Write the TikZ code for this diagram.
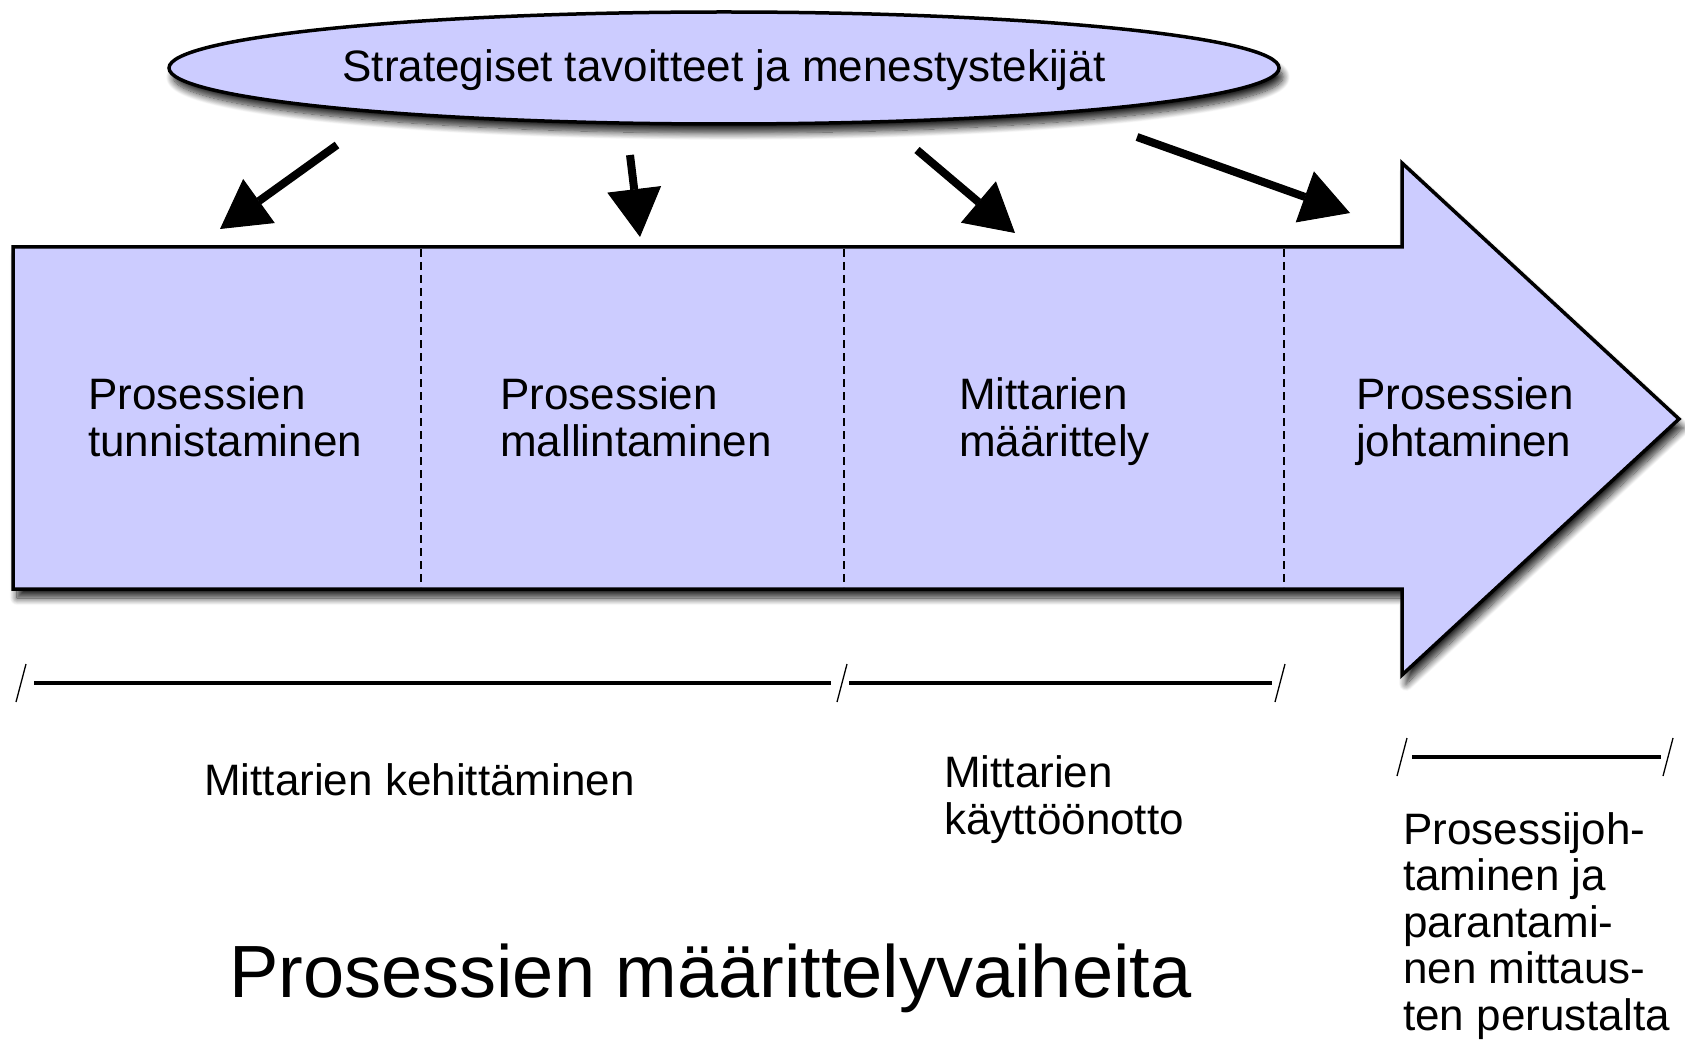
\documentclass[tikz,border=0pt]{standalone}
\usepackage{fontspec}
\setmainfont{Liberation Sans}
\usetikzlibrary{shapes.geometric,arrows.meta,shadows.blur}
\definecolor{lilac}{RGB}{204,204,255}
\tikzset{
  phase/.style={font=\fontsize{44}{47.5}\selectfont,align=left,anchor=base west,inner sep=0pt},
  pointer/.style={line width=8pt,-{Triangle[length=48pt,width=54pt,line width=1pt,fill=black]}},
  soft/.style={blur shadow={shadow xshift=4pt,shadow yshift=-9pt,shadow blur radius=7pt,shadow blur steps=12,shadow opacity=85}},
}
\begin{document}
\begin{tikzpicture}[x=1pt,y=-1pt]
  \useasboundingbox (0,0) rectangle (1685,1040);
  \draw[soft,fill=lilac,line width=3.5pt,line join=miter]
    (13,247) -- (1402,247) -- (1402,163) -- (1679,419) -- (1402,675) -- (1402,589) -- (13,589) -- cycle;
  \foreach \x in {421,844,1284}
    \draw[line width=2.8pt,dash pattern=on 8pt off 5pt] (\x,249) -- (\x,587);
  \node[soft,ellipse,draw,line width=3.5pt,fill=lilac,minimum width=1110pt,minimum height=112pt,inner sep=0pt,
        text depth=4.5pt,font=\fontsize{44}{47}\selectfont] (goal) at (724,68) {Strategiset tavoitteet ja menestystekijät};
  \node[phase] (tunnistus) at (88,456.5) {Prosessien\\tunnistaminen};
  \node[phase] (mallinnus) at (500,456.5) {Prosessien\\mallintaminen};
  \node[phase] (mittarit) at (959,456.5) {Mittarien\\määrittely};
  \node[phase] (johtaminen) at (1356,456.5) {Prosessien\\johtaminen};
  \coordinate (t1) at (337,145); \coordinate (h1) at (220,229);
  \coordinate (t2) at (630,155); \coordinate (h2) at (640,237);
  \coordinate (t3) at (917,150); \coordinate (h3) at (1015,233);
  \coordinate (t4) at (1137,137); \coordinate (h4) at (1350,213);
  \foreach \i in {1,...,4}
    \draw[pointer] (t\i) -- (h\i);
  \draw[line width=3.5pt] (34,683) -- (831,683) (849,683) -- (1272,683) (1412,757) -- (1661,757);
  \foreach \x/\y in {21/683,842/683,1280/683,1402/757,1668/757}
    \draw[line width=1.3pt] (\x-5,\y+19) -- (\x+5,\y-19);
  \node[phase] (kehitys) at (204,795) {Mittarien kehittäminen};
  \node[phase] (kaytto) at (944,834.5) {Mittarien\\käyttöönotto};
  \node[phase,font=\fontsize{44}{46.5}\selectfont] (parannus) at (1403,1030) {Prosessijoh-\\taminen ja\\parantami-\\nen mittaus-\\ten perustalta};
  \node[anchor=base west,inner sep=0pt,font=\fontsize{74}{80}\selectfont] (otsikko) at (229,997) {Prosessien määrittelyvaiheita};
\end{tikzpicture}
\end{document}
